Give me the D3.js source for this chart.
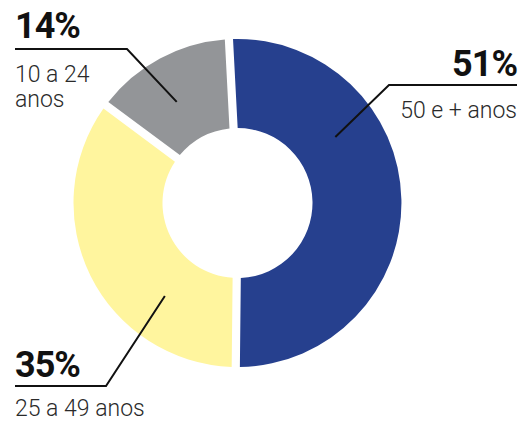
<!DOCTYPE html>
<html>
<head>
<meta charset="utf-8">
<script src="https://cdn.jsdelivr.net/npm/d3@7"></script>
<style>
  body { margin: 0; background: #fff; }
  svg { display: block; }
</style>
</head>
<body>
<svg id="chart" width="522" height="423"></svg>
<script>
// data
var groups = ["50 e + anos", "25 a 49 anos", "10 a 24 anos"];
var shares = [51, 35, 14];
var pctLabels = ["51%", "35%", "14%"];
var colors = ["#26408e", "#fff59e", "#939598"];

// label layout (x of text, baseline of big number, elbow, leader angle)
var labelLayout = [
	{ anchor: "end",   x: 517, y: 76,  lineY: 85,  elbowX: 389, ang: 56,  sub: 33, lines: ["50 e + anos"] },
	{ anchor: "start", x: 15,  y: 377, lineY: 386, elbowX: 106, ang: 218, sub: 30, lines: ["25 a 49 anos"] },
	{ anchor: "start", x: 15,  y: 38,  lineY: 49,  elbowX: 127, ang: -31, sub: 33, lines: ["10 a 24", "anos"] }
];

var svg = d3.select("#chart");
var cx = 237.5, cy = 203;
var outerR = 164, innerR = 75;
var toRad = Math.PI / 180;

var pie = d3.pie()
	.sort(null)
	.value(function(d){ return d; })
	.startAngle(-3 * toRad)
	.endAngle(357 * toRad);

var arc = d3.arc()
	.innerRadius(innerR)
	.outerRadius(outerR)
	.padAngle(0.05)
	.padRadius(outerR);

var g = svg.append("g").attr("transform", "translate(" + cx + "," + cy + ")");

g.selectAll("path.slice")
	.data(pie(shares))
	.enter().append("path")
	.attr("class", "slice")
	.attr("d", arc)
	.attr("fill", function(d, i){ return colors[i]; });

// labels + leaders
labelLayout.forEach(function(lay, i){
	var a = lay.ang * toRad;
	var ex = cx + Math.sin(a) * 118;
	var ey = cy - Math.cos(a) * 118;
	var x0 = lay.x;
	svg.append("polyline")
		.attr("points", [[x0, lay.lineY], [lay.elbowX, lay.lineY], [ex, ey]].map(function(p){ return p.join(","); }).join(" "))
		.attr("fill", "none")
		.attr("stroke", "#111")
		.attr("stroke-width", 2);

	svg.append("text")
		.attr("x", x0)
		.attr("y", lay.y)
		.attr("text-anchor", lay.anchor)
		.style("font-family", "Roboto, 'DejaVu Sans', sans-serif")
		.style("font-weight", 700)
		.style("font-size", "36px")
		.style("letter-spacing", "-1px")
		.attr("fill", "#111")
		.text(pctLabels[i]);

	lay.lines.forEach(function(t, k){
		svg.append("text")
			.attr("x", x0)
			.attr("y", lay.lineY + lay.sub + k * 25)
			.attr("text-anchor", lay.anchor)
			.style("font-family", "Roboto, 'DejaVu Sans', sans-serif")
			.style("font-weight", 300)
			.style("font-size", "23px")
			.attr("fill", "#2a2a2a")
			.text(t);
	});
});
</script>
</body>
</html>
